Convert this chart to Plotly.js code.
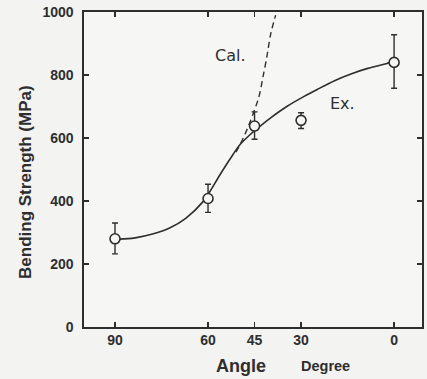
<!DOCTYPE html>
<html>
<head>
<meta charset="utf-8">
<script src="https://cdn.plot.ly/plotly-3.0.1.min.js"></script>
<style>
html,body{margin:0;padding:0;background:#f3f3f2;}
#chart{width:427px;height:379px;}
</style>
</head>
<body>
<div id="chart"></div>
<script>
// Measured points (angle in degrees, bending strength in MPa)
const angles = [90, 60, 45, 30, 0];
const strength = [280, 408, 638, 656, 840];
const errPlus = [50, 45, 45, 24, 88];
const errMinus = [48, 44, 42, 26, 82];

// Experimental fitted curve (Ex.)
const exAngle = [90.3, 88.7, 83.5, 77.9, 72.4, 67.2, 61.6, 59.4, 56.1, 52.8, 49.6, 46.3, 44.4, 39.8, 34.6, 29.0, 24.8, 19.2, 13.7, 8.5, 2.9, 0.7];
const exValue = [279, 279, 283, 295, 314, 345, 398, 430, 484, 535, 580, 612, 628, 664, 700, 732, 754, 782, 804, 821, 835, 841];

// Calculated curve (Cal.)
const calAngle = [51.0, 49.6, 47.9, 43.7, 42.1, 41.1, 39.8, 38.2];
const calValue = [555, 581, 616, 727, 803, 854, 930, 990];

// Tick labels
const xTicks = [90, 60, 45, 30, 0];
const yTicks = [0, 200, 400, 600, 800, 1000];

const ink = '#2e2e2e';

const traces = [
  {x: exAngle, y: exValue, mode: 'lines', line: {color: ink, width: 1.6, shape: 'spline', smoothing: 0.8}, hoverinfo: 'skip'},
  {x: calAngle, y: calValue, mode: 'lines', line: {color: ink, width: 1.4, dash: '6px,4px', shape: 'spline', smoothing: 0.8}, hoverinfo: 'skip'},
  {x: angles, y: strength, mode: 'markers',
   marker: {symbol: 'circle', size: 10, color: '#f6f6f5', line: {color: ink, width: 1.6}},
   error_y: {type: 'data', symmetric: false, array: errPlus, arrayminus: errMinus, color: ink, thickness: 1.4, width: 3}}
];

const layout = {
  width: 427, height: 379,
  margin: {l: 84, r: 5, t: 12, b: 52},
  paper_bgcolor: '#f3f3f2', plot_bgcolor: '#f6f6f5',
  showlegend: false,
  font: {family: 'Liberation Sans, Arial, sans-serif', color: ink},
  xaxis: {
    range: [100, -9], tickvals: xTicks, ticktext: xTicks.map(String),
    ticks: 'inside', ticklen: 5, tickwidth: 1.3, tickcolor: ink,
    showline: true, linecolor: ink, linewidth: 1.6, mirror: 'ticks',
    showgrid: false, zeroline: false,
    tickfont: {size: 14, family: 'Liberation Sans, Arial, sans-serif', weight: 'bold'}
  },
  yaxis: {
    range: [0, 1000], tickvals: yTicks, ticktext: yTicks.map(String),
    ticks: 'inside', ticklen: 5, tickwidth: 1.3, tickcolor: ink,
    showline: true, linecolor: ink, linewidth: 1.6, mirror: 'ticks',
    showgrid: false, zeroline: false, ticklabelstandoff: 6,
    tickfont: {size: 14, family: 'Liberation Sans, Arial, sans-serif', weight: 'bold'}
  },
  annotations: [
    {text: 'Bending Strength (MPa)', textangle: -90, xref: 'paper', yref: 'paper', x: -0.175, y: 0.46,
     xanchor: 'center', yanchor: 'middle', showarrow: false,
     font: {size: 17, family: 'Liberation Sans, Arial, sans-serif', weight: 'bold', color: ink}},
    {text: 'Angle', xref: 'x', yref: 'paper', x: 49.5, y: -0.125, xanchor: 'center', yanchor: 'middle', showarrow: false,
     font: {size: 18, family: 'Liberation Sans, Arial, sans-serif', weight: 'bold', color: ink}},
    {text: 'Degree', xref: 'x', yref: 'paper', x: 22, y: -0.125, xanchor: 'center', yanchor: 'middle', showarrow: false,
     font: {size: 14.5, family: 'Liberation Sans, Arial, sans-serif', weight: 'bold', color: ink}},
    {text: 'Cal.', xref: 'x', yref: 'y', x: 52.9, y: 863, showarrow: false,
     font: {size: 16, family: 'DejaVu Sans, sans-serif', color: ink}},
    {text: 'Ex.', xref: 'x', yref: 'y', x: 16.8, y: 711, showarrow: false,
     font: {size: 16, family: 'DejaVu Sans, sans-serif', color: ink}}
  ]
};

Plotly.newPlot('chart', traces, layout, {displayModeBar: false, staticPlot: true});
</script>
</body>
</html>
